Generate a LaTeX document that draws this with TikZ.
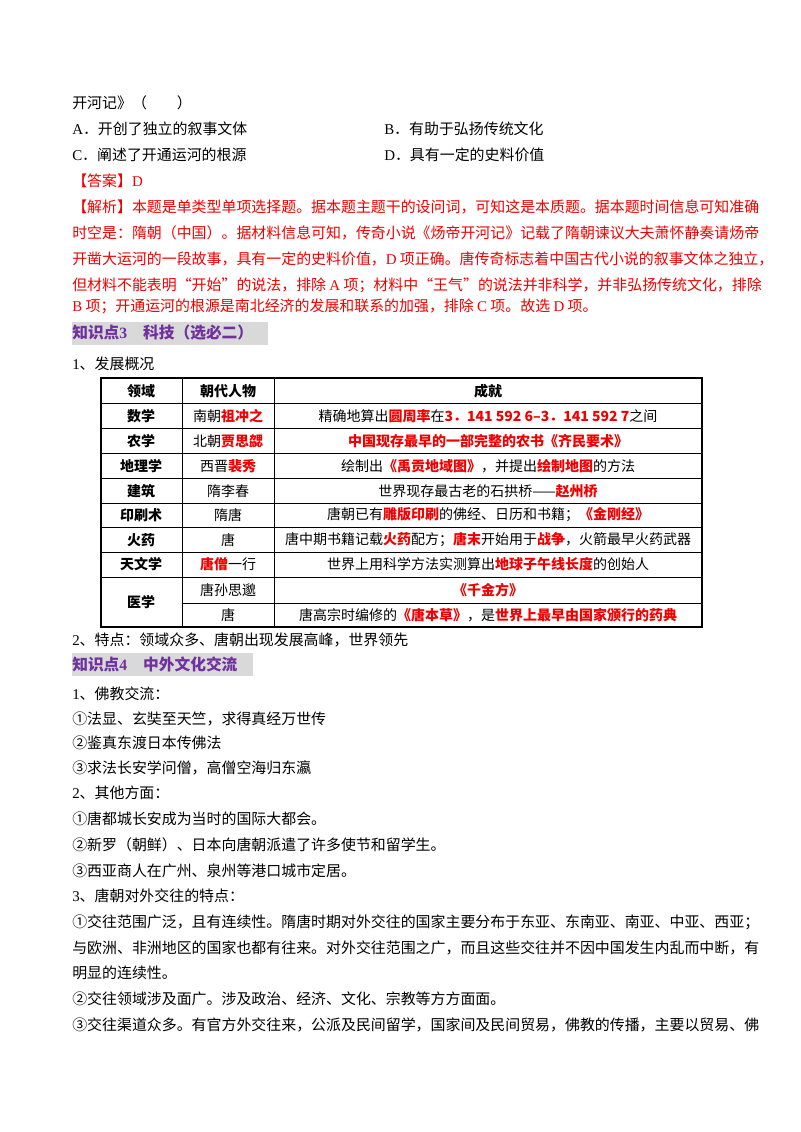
\documentclass[tikz,border=0pt]{standalone}
\usepackage{fontspec}
\setmainfont{Noto Sans CJK SC}
\newfontfamily\lat{Liberation Serif}
\definecolor{rd}{RGB}{240,0,0}
\definecolor{pu}{RGB}{112,48,160}
\definecolor{gb}{RGB}{217,217,217}
\begin{document}
\begin{tikzpicture}[x=0.75pt,y=-0.75pt,
  t/.style={anchor=west,inner sep=0pt,font=\fontsize{11.2}{13}\selectfont},
  r/.style={t,text=rd},
  h/.style={t,text=pu,font=\fontsize{11.8}{13}\selectfont\bfseries},
  c/.style={inner sep=0pt,font=\fontsize{10.5}{12}\selectfont},
  b/.style={c,font=\fontsize{10.5}{12}\selectfont\bfseries}]
\useasboundingbox[fill=white] (0,0) rectangle (800,1132);
\node[t] (l1) at (72,103) {开河记》（\qquad ）};
\node[t] (oa) at (72,129) {{\lat A}．开创了独立的叙事文体};
\node[t] (ob) at (384,129) {{\lat B}．有助于弘扬传统文化};
\node[t] (oc) at (72,155) {{\lat C}．阐述了开通运河的根源};
\node[t] (od) at (384,155) {{\lat D}．具有一定的史料价值};
\node[r] (ans) at (72,181) {【答案】{\lat D}};
\node[r] (e1) at (72,207) {【解析】本题是单类型单项选择题。据本题主题干的设问词，可知这是本质题。据本题时间信息可知准确};
\node[r] (e2) at (72,233) {时空是：隋朝（中国）。据材料信息可知，传奇小说《炀帝开河记》记载了隋朝谏议大夫萧怀静奏请炀帝};
\node[r] (e3) at (72,259) {开凿大运河的一段故事，具有一定的史料价值，{\lat D} 项正确。唐传奇标志着中国古代小说的叙事文体之独立，};
\node[r] (e4) at (72,285) {但材料不能表明“开始”的说法，排除 {\lat A} 项；材料中“王气”的说法并非科学，并非弘扬传统文化，排除};
\node[r] (e5) at (72,306) {{\lat B} 项；开通运河的根源是南北经济的发展和联系的加强，排除 {\lat C} 项。故选 {\lat D} 项。};
\fill[gb] (72,322) rectangle (268,345);
\node[h] (k3) at (72,333) {知识点{\lat 3}\quad 科技（选必二）};
\node[t] (s1) at (72,364) {{\lat 1}、发展概况};
\draw[line width=0.9pt] (101,378) rectangle (702,627);
\foreach \y in {403,428,453,478,503,527,552,577} \draw[line width=0.7pt] (101,\y) -- (702,\y);
\draw[line width=0.7pt] (182,603) -- (702,603);
\draw[line width=0.7pt] (182,378) -- (182,627) (274,378) -- (274,627);
\node[b] (h1) at (141,391) {领域};
\node[b] (h2) at (228,391) {朝代人物};
\node[b] (h3) at (488,391) {成就};
\node[b] (a1) at (141,416) {数学};
\node[c] (a2) at (228,416) {南朝{\color{rd}\bfseries 祖冲之}};
\node[c] (a3) at (488,416) {精确地算出{\color{rd}\bfseries 圆周率}在{\color{rd}\bfseries 3．141 592 6–3．141 592 7}之间};
\node[b] (b1) at (141,441) {农学};
\node[c] (b2) at (228,441) {北朝{\color{rd}\bfseries 贾思勰}};
\node[c] (b3) at (488,441) {\color{rd}\bfseries 中国现存最早的一部完整的农书《齐民要术》};
\node[b] (c1) at (141,466) {地理学};
\node[c] (c2) at (228,466) {西晋{\color{rd}\bfseries 裴秀}};
\node[c] (c3) at (488,466) {绘制出{\color{rd}\bfseries《禹贡地域图》}，并提出{\color{rd}\bfseries 绘制地图}的方法};
\node[b] (d1) at (141,491) {建筑};
\node[c] (d2) at (228,491) {隋李春};
\node[c] (d3) at (488,491) {世界现存最古老的石拱桥——{\color{rd}\bfseries 赵州桥}};
\node[b] (f1) at (141,515) {印刷术};
\node[c] (f2) at (228,515) {隋唐};
\node[c] (f3) at (488,515) {唐朝已有{\color{rd}\bfseries 雕版印刷}的佛经、日历和书籍；{\color{rd}\bfseries《金刚经》}};
\node[b] (g1) at (141,540) {火药};
\node[c] (g2) at (228,540) {唐};
\node[c] (g3) at (488,540) {唐中期书籍记载{\color{rd}\bfseries 火药}配方；{\color{rd}\bfseries 唐末}开始用于{\color{rd}\bfseries 战争}，火箭最早火药武器};
\node[b] (i1) at (141,564) {天文学};
\node[c] (i2) at (228,564) {{\color{rd}\bfseries 唐僧}一行};
\node[c] (i3) at (488,564) {世界上用科学方法实测算出{\color{rd}\bfseries 地球子午线长度}的创始人};
\node[b] (j1) at (141,602) {医学};
\node[c] (j2) at (228,590) {唐孙思邈};
\node[c] (j3) at (488,590) {\color{rd}\bfseries《千金方》};
\node[c] (m2) at (228,615) {唐};
\node[c] (m3) at (488,615) {唐高宗时编修的{\color{rd}\bfseries《唐本草》}，是{\color{rd}\bfseries 世界上最早由国家颁行的药典}};
\node[t] (s2) at (72,640) {{\lat 2}、特点：领域众多、唐朝出现发展高峰，世界领先};
\fill[gb] (72,653) rectangle (253,676);
\node[h] (k4) at (72,664) {知识点{\lat 4}\quad 中外文化交流};
\node[t] (p1) at (72,694) {{\lat 1}、佛教交流：};
\node[t] (p2) at (72,719) {①法显、玄奘至天竺，求得真经万世传};
\node[t] (p3) at (72,743) {②鉴真东渡日本传佛法};
\node[t] (p4) at (72,768) {③求法长安学问僧，高僧空海归东瀛};
\node[t] (q1) at (72,793) {{\lat 2}、其他方面：};
\node[t] (q2) at (72,819) {①唐都城长安成为当时的国际大都会。};
\node[t] (q3) at (72,845) {②新罗（朝鲜）、日本向唐朝派遣了许多使节和留学生。};
\node[t] (q4) at (72,871) {③西亚商人在广州、泉州等港口城市定居。};
\node[t] (u1) at (72,896) {{\lat 3}、唐朝对外交往的特点：};
\node[t] (u2) at (72,922) {①交往范围广泛，且有连续性。隋唐时期对外交往的国家主要分布于东亚、东南亚、南亚、中亚、西亚；};
\node[t] (u3) at (72,948) {与欧洲、非洲地区的国家也都有往来。对外交往范围之广，而且这些交往并不因中国发生内乱而中断，有};
\node[t] (u4) at (72,973) {明显的连续性。};
\node[t] (u5) at (72,999) {②交往领域涉及面广。涉及政治、经济、文化、宗教等方方面面。};
\node[t] (u6) at (72,1025) {③交往渠道众多。有官方外交往来，公派及民间留学，国家间及民间贸易，佛教的传播，主要以贸易、佛};
\end{tikzpicture}
\end{document}
